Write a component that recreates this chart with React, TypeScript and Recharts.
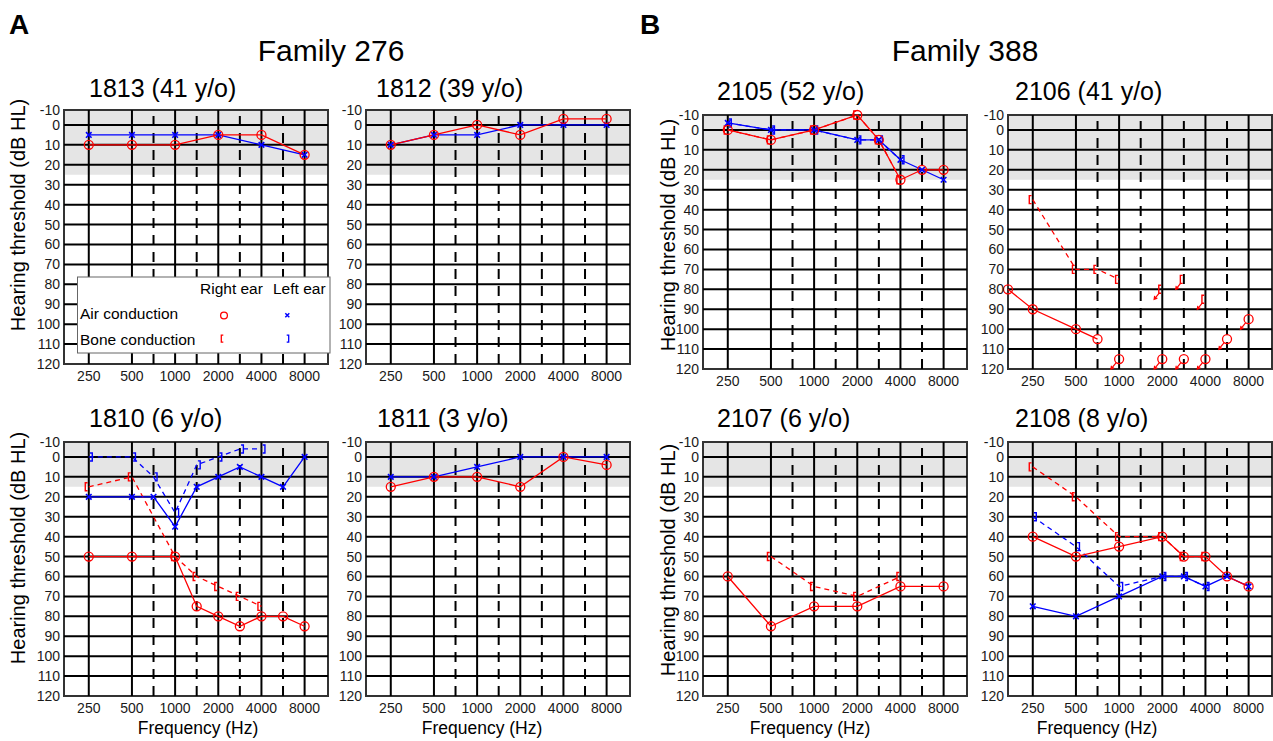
import React from 'react';
import { ComposedChart, Line, XAxis, YAxis, ReferenceLine, ReferenceArea } from 'recharts';

const FONT = '"Liberation Sans", Arial, Helvetica, sans-serif';
const RED = '#ff0000';
const BLUE = '#0000ff';

// audiogram axis: octave index (250 Hz = 0), half-octave lines in between
const X_MIN = -0.574;
const X_MAX = 5.542;
const Y_TOP = -7.5;
const Y_BOTTOM = 120;

const OCTAVE_FREQS = [250, 500, 1000, 2000, 4000, 8000];
const OCTAVE_LABELS = ['250', '500', '1000', '2000', '4000', '8000'];
const HALF_OCTAVE_FREQS = [750, 1500, 3000, 6000];
const DB_GRID = [0, 10, 20, 30, 40, 50, 60, 70, 80, 90, 100, 110];
const DB_TICKS = [Y_TOP, 0, 10, 20, 30, 40, 50, 60, 70, 80, 90, 100, 110, 120];
const FREQ_POS: Record<number, number> = {
  125: X_MIN, 250: 0, 500: 1, 750: 1.5, 1000: 2, 1500: 2.5, 2000: 3, 3000: 3.5, 4000: 4, 6000: 4.5, 8000: 5,
};

// ---- Family 276 ----
const F1813 = [250, 500, 1000, 2000, 4000, 8000];
const R_AIR_1813 = [10, 10, 10, 5, 5, 15];
const L_AIR_1813 = [5, 5, 5, 5, 10, 15];

const F1812 = [250, 500, 1000, 2000, 4000, 8000];
const R_AIR_1812 = [10, 5, 0, 5, -3, -3];
const L_AIR_1812 = [10, 5, 5, 0, 0, 0];

const F1810_RA = [250, 500, 1000, 1500, 2000, 3000, 4000, 6000, 8000];
const R_AIR_1810 = [50, 50, 50, 75, 80, 85, 80, 80, 85];
const F1810_LA = [250, 500, 750, 1000, 1500, 2000, 3000, 4000, 6000, 8000];
const L_AIR_1810 = [20, 20, 20, 35, 15, 10, 5, 10, 15, 0];
const F1810_RB = [250, 500, 1000, 1500, 2000, 3000, 4000];
const R_BONE_1810 = [15, 10, 50, 60, 65, 70, 75];
const F1810_LB = [250, 500, 750, 1000, 1500, 2000, 3000, 4000];
const L_BONE_1810 = [0, 0, 10, 28, 4, 0, -4, -4];

const F1811 = [250, 500, 1000, 2000, 4000, 8000];
const R_AIR_1811 = [15, 10, 10, 15, 0, 4];
const L_AIR_1811 = [10, 10, 5, 0, 0, 0];

// ---- Family 388 ----
const F2105 = [250, 500, 1000, 2000, 3000, 4000, 6000, 8000];
const R_AIR_2105 = [0, 5, 0, -7.5, 5, 25, 20, 20];
const L_AIR_2105 = [-3.5, 0, 0, 5, 5, 15, 20, 25];
const F2105_B = [250, 500, 1000, 2000, 3000, 4000];
const R_BONE_2105 = [0, 5, 0, -7.5, 5, 25];
const L_BONE_2105 = [-3.5, 0, 0, 5, 5, 15];

const F2106_RA = [125, 250, 500, 750];
const R_AIR_2106 = [80, 90, 100, 105];
const F2106_RA_NR = [1000, 2000, 3000, 4000, 6000, 8000];
const R_AIR_NR_2106 = [115, 115, 115, 115, 105, 95];
const F2106_RB = [250, 500, 750, 1000];
const R_BONE_2106 = [35, 70, 70, 75];
const F2106_RB_NR = [2000, 3000, 4000];
const R_BONE_NR_2106 = [80, 75, 85];

const F2107_RA = [250, 500, 1000, 2000, 4000, 8000];
const R_AIR_2107 = [60, 85, 75, 75, 65, 65];
const F2107_RB = [500, 1000, 2000, 4000];
const R_BONE_2107 = [50, 65, 70, 60];

const F2108 = [250, 500, 1000, 2000, 3000, 4000, 6000, 8000];
const R_AIR_2108 = [40, 50, 45, 40, 50, 50, 60, 65];
const L_AIR_2108 = [75, 80, 70, 60, 60, 65, 60, 65];
const F2108_B = [250, 500, 1000, 2000, 3000, 4000];
const R_BONE_2108 = [5, 20, 40, 40, 50, 50];
const L_BONE_2108 = [30, 45, 65, 60, 60, 65];

type Kind = 'rAir' | 'lAir' | 'rBone' | 'lBone' | 'rAirNR' | 'rBoneNR';
type Series = { kind: Kind; freqs: number[]; db: number[] };

const toPoints = (freqs: number[], db: number[]) => freqs.map((f, i) => ({ x: FREQ_POS[f], y: db[i] }));

// ---- marker shapes ----
const DIR = { x: -0.62, y: 0.78 };
function arrow(x0: number, y0: number, len: number, color: string) {
  const x1 = x0 + DIR.x * len;
  const y1 = y0 + DIR.y * len;
  const h = 3.5;
  const a1 = { x: x1 + 0.927 * h, y: y1 - 0.365 * h };
  const a2 = { x: x1 + 0.147 * h, y: y1 - 0.985 * h };
  return (
    <path d={`M${x0},${y0}L${x1},${y1}M${a1.x},${a1.y}L${x1},${y1}L${a2.x},${a2.y}`} stroke={color} strokeWidth={1.2} fill="none" />
  );
}

const circleMark = (cx: number, cy: number) => (
  <circle cx={cx} cy={cy} r={4.5} fill="none" stroke={RED} strokeWidth={1.3} />
);
const crossMark = (cx: number, cy: number) => (
  <path d={`M${cx - 2.8},${cy - 2.8}L${cx + 2.8},${cy + 2.8}M${cx - 2.8},${cy + 2.8}L${cx + 2.8},${cy - 2.8}`} stroke={BLUE} strokeWidth={1.6} fill="none" />
);
const leftBracket = (cx: number, cy: number) => (
  <path d={`M${cx - 1.2},${cy - 4}L${cx - 3.5},${cy - 4}L${cx - 3.5},${cy + 4}L${cx - 1.2},${cy + 4}`} stroke={RED} strokeWidth={1.4} fill="none" />
);
const rightBracket = (cx: number, cy: number) => (
  <path d={`M${cx + 1.2},${cy - 4}L${cx + 3.5},${cy - 4}L${cx + 3.5},${cy + 4}L${cx + 1.2},${cy + 4}`} stroke={BLUE} strokeWidth={1.4} fill="none" />
);

function makeDot(kind: Kind) {
  return (props: any) => {
    const { cx, cy, index } = props;
    if (cx == null || cy == null) return <g key={`e${index}`} />;
    let inner: React.ReactNode = null;
    if (kind === 'rAir') inner = circleMark(cx, cy);
    else if (kind === 'lAir') inner = crossMark(cx, cy);
    else if (kind === 'rBone') inner = leftBracket(cx, cy);
    else if (kind === 'lBone') inner = rightBracket(cx, cy);
    else if (kind === 'rAirNR')
      inner = (
        <>
          {circleMark(cx, cy)}
          {arrow(cx - 2.9, cy + 3.5, 8.5, RED)}
        </>
      );
    else
      inner = (
        <>
          {leftBracket(cx, cy)}
          {arrow(cx - 3.5, cy + 4.2, 7.5, RED)}
        </>
      );
    return <g key={`d${index}`}>{inner}</g>;
  };
}

const STYLE: Record<Kind, { stroke: string; dash?: string }> = {
  rAir: { stroke: RED },
  lAir: { stroke: BLUE },
  rBone: { stroke: RED, dash: '5 4' },
  lBone: { stroke: BLUE, dash: '5 4' },
  rAirNR: { stroke: 'none' },
  rBoneNR: { stroke: 'none' },
};
const ORDER: Kind[] = ['lBone', 'rBone', 'lAir', 'rAir', 'rAirNR', 'rBoneNR'];

type Panel = { id: string; left: number; top: number; grayTo: number; series: Series[] };

const PLOT_W = 264;
const PLOT_H = 254;
const M_LEFT = 40;
const M_TOP = 12;

const PANELS: Panel[] = [
  { id: '1813', left: 64, top: 110, grayTo: 25, series: [
    { kind: 'lAir', freqs: F1813, db: L_AIR_1813 },
    { kind: 'rAir', freqs: F1813, db: R_AIR_1813 },
  ] },
  { id: '1812', left: 366, top: 110, grayTo: 25, series: [
    { kind: 'lAir', freqs: F1812, db: L_AIR_1812 },
    { kind: 'rAir', freqs: F1812, db: R_AIR_1812 },
  ] },
  { id: '1810', left: 64, top: 442, grayTo: 15, series: [
    { kind: 'lBone', freqs: F1810_LB, db: L_BONE_1810 },
    { kind: 'rBone', freqs: F1810_RB, db: R_BONE_1810 },
    { kind: 'lAir', freqs: F1810_LA, db: L_AIR_1810 },
    { kind: 'rAir', freqs: F1810_RA, db: R_AIR_1810 },
  ] },
  { id: '1811', left: 366, top: 442, grayTo: 15, series: [
    { kind: 'lAir', freqs: F1811, db: L_AIR_1811 },
    { kind: 'rAir', freqs: F1811, db: R_AIR_1811 },
  ] },
  { id: '2105', left: 702.5, top: 114.5, grayTo: 25, series: [
    { kind: 'lBone', freqs: F2105_B, db: L_BONE_2105 },
    { kind: 'rBone', freqs: F2105_B, db: R_BONE_2105 },
    { kind: 'lAir', freqs: F2105, db: L_AIR_2105 },
    { kind: 'rAir', freqs: F2105, db: R_AIR_2105 },
  ] },
  { id: '2106', left: 1007.5, top: 114.5, grayTo: 25, series: [
    { kind: 'rBone', freqs: F2106_RB, db: R_BONE_2106 },
    { kind: 'rAir', freqs: F2106_RA, db: R_AIR_2106 },
    { kind: 'rAirNR', freqs: F2106_RA_NR, db: R_AIR_NR_2106 },
    { kind: 'rBoneNR', freqs: F2106_RB_NR, db: R_BONE_NR_2106 },
  ] },
  { id: '2107', left: 702.5, top: 442, grayTo: 15, series: [
    { kind: 'rBone', freqs: F2107_RB, db: R_BONE_2107 },
    { kind: 'rAir', freqs: F2107_RA, db: R_AIR_2107 },
  ] },
  { id: '2108', left: 1007.5, top: 442, grayTo: 15, series: [
    { kind: 'lBone', freqs: F2108_B, db: L_BONE_2108 },
    { kind: 'rBone', freqs: F2108_B, db: R_BONE_2108 },
    { kind: 'lAir', freqs: F2108, db: L_AIR_2108 },
    { kind: 'rAir', freqs: F2108, db: R_AIR_2108 },
  ] },
];

const xTickLabel = (v: number) => {
  const i = OCTAVE_FREQS.findIndex((f) => FREQ_POS[f] === v);
  return i >= 0 ? OCTAVE_LABELS[i] : '';
};
const yTickLabel = (v: number) => (v < 0 ? '-10' : String(v));

function Audiogram({ panel }: { panel: Panel }) {
  const sorted = [...panel.series].sort((a, b) => ORDER.indexOf(a.kind) - ORDER.indexOf(b.kind));
  return (
    <div style={{ position: 'absolute', left: panel.left - M_LEFT, top: panel.top - M_TOP }}>
      <ComposedChart width={M_LEFT + PLOT_W + 12} height={M_TOP + PLOT_H + 30} margin={{ top: M_TOP, right: 12, bottom: 0, left: 0 }}>
        <XAxis
          type="number"
          dataKey="x"
          domain={[X_MIN, X_MAX]}
          ticks={OCTAVE_FREQS.map((f) => FREQ_POS[f])}
          tickFormatter={xTickLabel}
          interval={0}
          axisLine={false}
          tickLine={false}
          tickSize={0}
          tickMargin={7}
          height={30}
          tick={{ fill: '#1a1a1a', fontSize: 14 }}
        />
        <YAxis
          type="number"
          domain={[Y_TOP, Y_BOTTOM]}
          reversed
          ticks={DB_TICKS}
          tickFormatter={yTickLabel}
          interval={0}
          axisLine={false}
          tickLine={false}
          tickSize={0}
          tickMargin={4}
          width={M_LEFT}
          tick={{ fill: '#1a1a1a', fontSize: 14 }}
        />
        <ReferenceArea x1={X_MIN} x2={X_MAX} y1={Y_TOP} y2={panel.grayTo} fill="#e5e5e5" fillOpacity={1} stroke="none" />
        {DB_GRID.map((v) => (
          <ReferenceLine key={`h${v}`} y={v} stroke="#000" strokeWidth={2} />
        ))}
        {OCTAVE_FREQS.map((f) => (
          <ReferenceLine key={`v${f}`} x={FREQ_POS[f]} stroke="#000" strokeWidth={2} />
        ))}
        {HALF_OCTAVE_FREQS.map((f) => (
          <ReferenceLine key={`d${f}`} x={FREQ_POS[f]} stroke="#000" strokeWidth={2} strokeDasharray="10 7" />
        ))}
        <ReferenceArea x1={X_MIN} x2={X_MAX} y1={Y_TOP} y2={Y_BOTTOM} fill="none" stroke="#333" strokeWidth={2} />
        {sorted.map((s, i) => (
          <Line
            key={`${panel.id}-${s.kind}-${i}`}
            data={toPoints(s.freqs, s.db)}
            dataKey="y"
            type="linear"
            stroke={STYLE[s.kind].stroke}
            strokeWidth={1.3}
            strokeDasharray={STYLE[s.kind].dash}
            dot={makeDot(s.kind)}
            activeDot={false}
            isAnimationActive={false}
            legendType="none"
          />
        ))}
      </ComposedChart>
    </div>
  );
}

const TITLES = [
  { text: '1813 (41 y/o)', x: 89, y: 97 },
  { text: '1812 (39 y/o)', x: 376, y: 97 },
  { text: '1810 (6 y/o)', x: 89, y: 427 },
  { text: '1811 (3 y/o)', x: 377, y: 427 },
  { text: '2105 (52 y/o)', x: 717, y: 100 },
  { text: '2106 (41 y/o)', x: 1015, y: 100 },
  { text: '2107 (6 y/o)', x: 717, y: 427 },
  { text: '2108 (8 y/o)', x: 1015, y: 427 },
];
const Y_LABELS = [
  { x: 18, y: 215 },
  { x: 18, y: 548 },
  { x: 668, y: 235 },
  { x: 668, y: 560 },
];
const X_LABELS = [
  { x: 198, y: 734 },
  { x: 482, y: 734 },
  { x: 810, y: 734 },
  { x: 1097, y: 734 },
];

function Overlay() {
  return (
    <svg width={1273} height={741} style={{ position: 'absolute', left: 0, top: 0, pointerEvents: 'none' }} fontFamily={FONT}>
      <text x={9} y={34} fontSize={28} fontWeight="bold" fill="#000">A</text>
      <text x={640} y={34} fontSize={28} fontWeight="bold" fill="#000">B</text>
      <text x={331} y={61} fontSize={30} textAnchor="middle" fill="#000">Family 276</text>
      <text x={965} y={61} fontSize={30} textAnchor="middle" fill="#000">Family 388</text>
      {TITLES.map((t) => (
        <text key={t.text} x={t.x} y={t.y} fontSize={25} fill="#000">{t.text}</text>
      ))}
      {Y_LABELS.map((p, i) => (
        <text key={`yl${i}`} transform={`translate(${p.x},${p.y}) rotate(-90)`} textAnchor="middle" dominantBaseline="central" fontSize={20} fill="#000">
          Hearing threshold (dB HL)
        </text>
      ))}
      {X_LABELS.map((p, i) => (
        <text key={`xl${i}`} x={p.x} y={p.y} textAnchor="middle" fontSize={17.5} fill="#000">Frequency (Hz)</text>
      ))}
      {/* legend of panel 1813 */}
      <g>
        <rect x={77.5} y={277} width={252.5} height={76} fill="#fff" stroke="#666" strokeWidth={1} />
        <text x={200} y={294} fontSize={15.5} fill="#000">Right ear</text>
        <text x={273} y={294} fontSize={15.5} fill="#000">Left ear</text>
        <text x={80} y={319} fontSize={15.5} fill="#000">Air conduction</text>
        <text x={80} y={344.5} fontSize={15.5} fill="#000">Bone conduction</text>
        <circle cx={224} cy={315.5} r={3.4} fill="none" stroke={RED} strokeWidth={1.3} />
        <path d="M285.3,313.3L289.3,317.3M285.3,317.3L289.3,313.3" stroke={BLUE} strokeWidth={1.5} />
        <path d="M223.3,335.2L221.3,335.2L221.3,342.2L223.3,342.2" stroke={RED} strokeWidth={1.3} fill="none" />
        <path d="M286.7,335.2L288.7,335.2L288.7,342.2L286.7,342.2" stroke={BLUE} strokeWidth={1.3} fill="none" />
      </g>
    </svg>
  );
}

export default function App() {
  return (
    <div style={{ position: 'absolute', left: 0, top: 0, width: 1273, height: 741, background: '#fff', fontFamily: FONT, overflow: 'hidden' }}>
      {PANELS.map((p) => (
        <Audiogram key={p.id} panel={p} />
      ))}
      <Overlay />
    </div>
  );
}
